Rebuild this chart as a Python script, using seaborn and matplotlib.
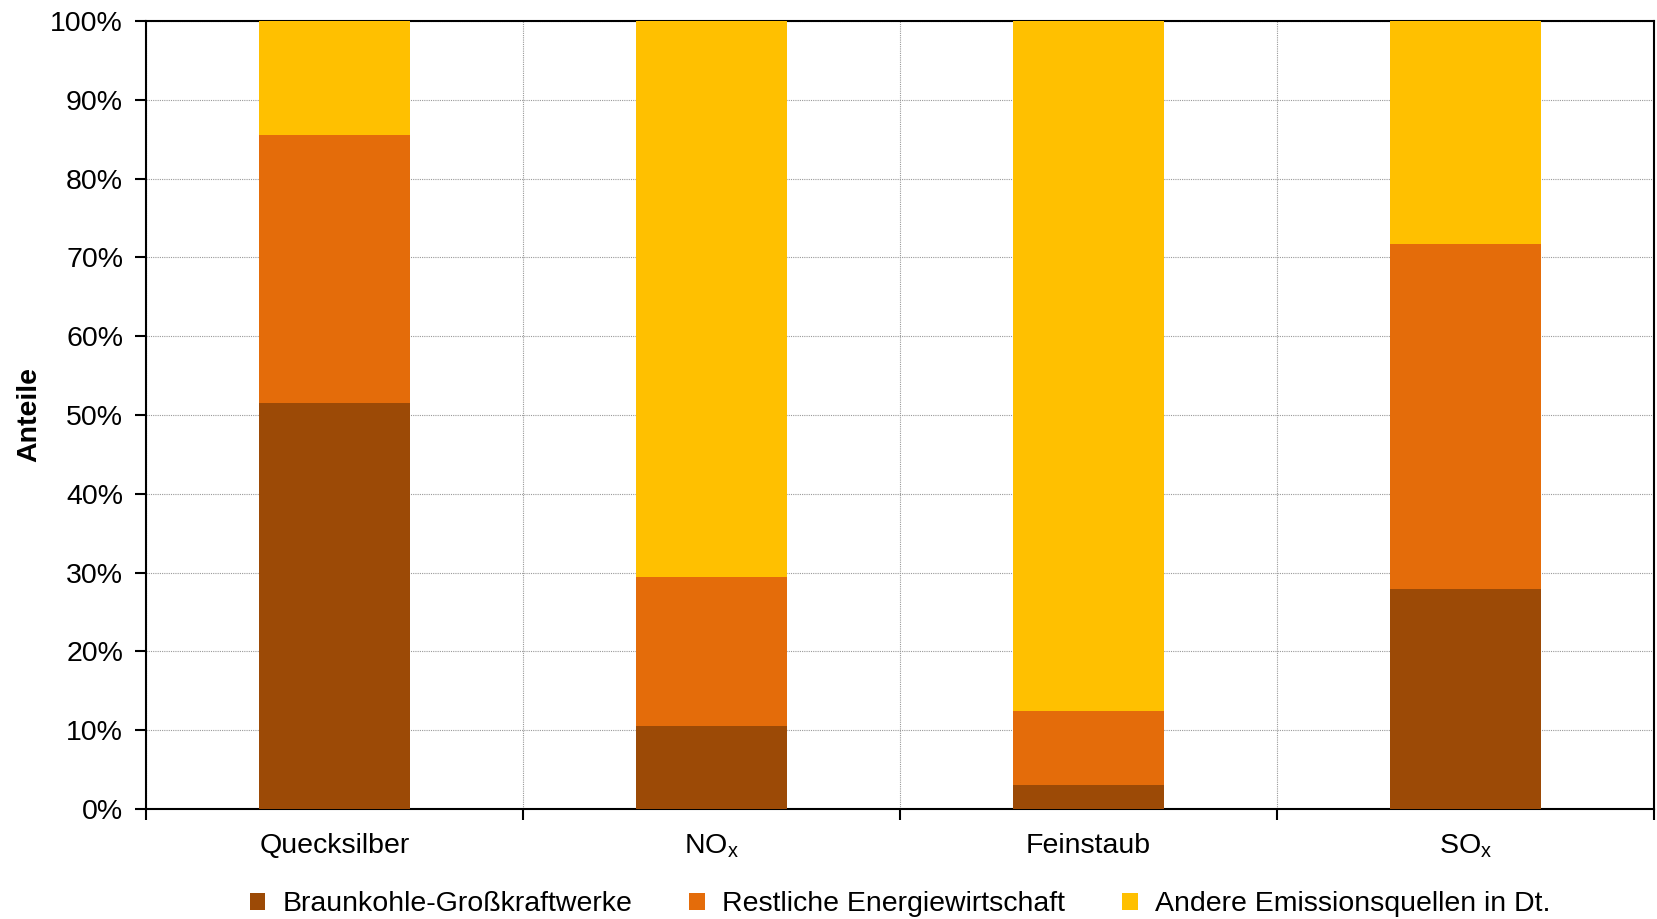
import numpy as np
import pandas as pd
import seaborn as sns
import matplotlib.pyplot as plt
from matplotlib.patches import Patch

# Daten (Anteile in %)
kategorien = ['Quecksilber', 'NO$_{\\rm x}$', 'Feinstaub', 'SO$_{\\rm x}$']
braunkohle = [51.5, 10.5, 3.0, 27.9]
restliche = [34.0, 19.0, 9.5, 43.8]
andere = [14.5, 70.5, 87.5, 28.3]
serien = ['Braunkohle-Großkraftwerke', 'Restliche Energiewirtschaft', 'Andere Emissionsquellen in Dt.']
farben = ['#9C4A06', '#E46C0A', '#FFC000']

df = pd.DataFrame({'Kategorie': kategorien,
                   'b': braunkohle, 'r': restliche, 'a': andere})
df['cum_b'] = df['b'] / 100
df['cum_r'] = (df['b'] + df['r']) / 100
df['cum_a'] = (df['b'] + df['r'] + df['a']) / 100

sns.set_theme(style='white')
plt.rcParams['font.family'] = ['Liberation Sans', 'DejaVu Sans']
plt.rcParams['mathtext.fontset'] = 'custom'
plt.rcParams['mathtext.rm'] = 'Liberation Sans'
plt.rcParams['text.color'] = 'black'
plt.rcParams['xtick.color'] = 'black'
plt.rcParams['ytick.color'] = 'black'
plt.rcParams['axes.labelcolor'] = 'black'

fs = 20.5
fig = plt.figure(figsize=(16.58, 9.19), dpi=100)
ax = fig.add_axes([146 / 1658, 1 - 809 / 919, 1508 / 1658, 788 / 919])

# gestapelt: von oben nach unten überlagern
for col, farbe in zip(['cum_a', 'cum_r', 'cum_b'], farben[::-1]):
    sns.barplot(data=df, x='Kategorie', y=col, color=farbe, width=0.4,
                saturation=1, ax=ax, errorbar=None, zorder=3,
                edgecolor='none', linewidth=0)

ax.set_xlim(-0.5, 3.5)
ax.set_ylim(0, 1)
ax.set_yticks(np.arange(0, 1.01, 0.1))
ax.set_yticklabels([f'{int(round(v * 100))}%' for v in np.arange(0, 1.01, 0.1)], fontsize=fs)

ax.set_xticks(np.arange(-0.5, 3.6, 1))
ax.set_xticklabels([])
ax.set_xticks(range(4), minor=True)
ax.set_xticklabels(kategorien, minor=True, fontsize=fs)
ax.tick_params(axis='x', which='minor', length=0, pad=17)
ax.tick_params(axis='both', which='major', direction='out', length=8, width=1.5,
               color='black', bottom=True, left=True)
ax.tick_params(axis='y', labelsize=fs, pad=8.5)

ax.grid(True, which='major', color='#999999', linestyle=(0, (1, 1)), linewidth=0.8, zorder=0)
ax.set_axisbelow(True)
for sp in ax.spines.values():
    sp.set_visible(True)
    sp.set_color('black')
    sp.set_linewidth(1.5)

ax.set_xlabel('')
ax.set_ylabel('Anteile', fontsize=fs, fontweight='bold', labelpad=6)

handles = [Patch(facecolor=f, edgecolor='none') for f in farben]
ax.legend(handles, serien, loc='center', bbox_to_anchor=(0.5, -0.121), ncol=3,
          frameon=False, fontsize=fs, handlelength=0.55, handleheight=0.55,
          handletextpad=0.6, columnspacing=2.0)

fig.savefig('out.png', dpi=100)
